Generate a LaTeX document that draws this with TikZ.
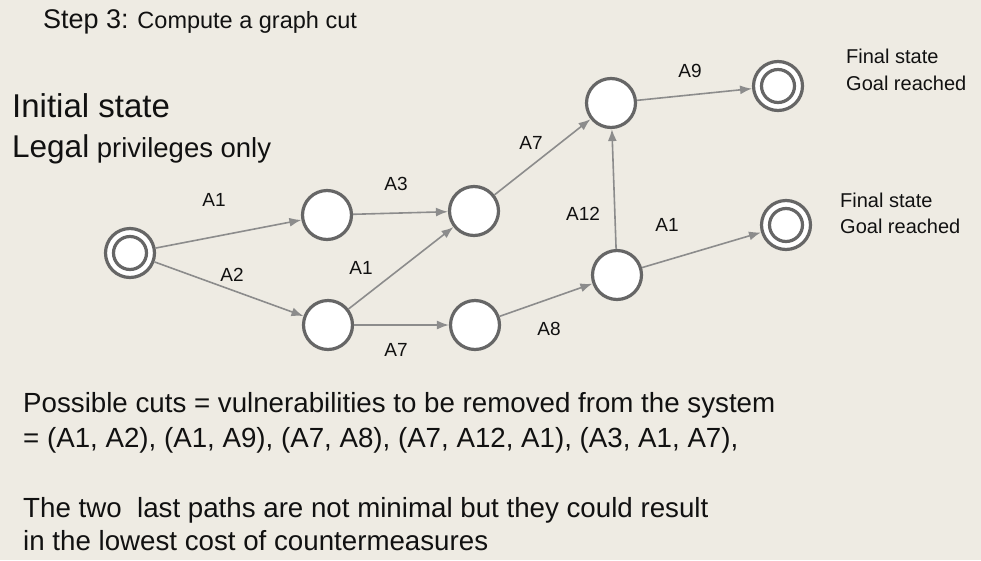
\documentclass[tikz,border=0pt]{standalone}
\usepackage{fontspec}
\setmainfont{Liberation Sans}
\usetikzlibrary{arrows.meta}
\definecolor{bgcol}{HTML}{EEEBE3}
\definecolor{ringcol}{HTML}{666666}
\definecolor{edgecol}{HTML}{8C8C8C}
\definecolor{txtcol}{HTML}{111111}
\newcommand{\fs}[1]{\fontsize{#1}{#1}\selectfont}

\begin{document}
\begin{tikzpicture}[x=1pt,y=-1pt]
		\tikzstyle{state} = [circle, draw=ringcol, line width=3.2pt, fill=white, minimum size=49pt, inner sep=0pt]
		\tikzstyle{inring} = [circle, draw=ringcol, line width=3.2pt, minimum size=33pt, inner sep=0pt]
		\tikzstyle{arr} = [-{Latex[length=12pt,width=9pt]}, draw=edgecol, line width=1.6pt]
		\tikzstyle{lbl} = [inner sep=0pt, text=txtcol, font=\fs{19}]
		\tikzstyle{txt} = [inner sep=0pt, anchor=base west, text=txtcol]
		\fill [bgcol] (0,0) rectangle (981,560);
		% states
		\node [state] (v0) at (130,253) {};
		\node [inring] (v0i) at (v0) {};
		\node [state] (v1) at (327,215) {};
		\node [state] (v2) at (328,325) {};
		\node [state] (v3) at (474,211) {};
		\node [state] (v4) at (475,325) {};
		\node [state] (v5) at (611,103) {};
		\node [state] (v6) at (617,275) {};
		\node [state] (v7) at (778,86) {};
		\node [inring] (v7i) at (v7) {};
		\node [state] (v8) at (786,225) {};
		\node [inring] (v8i) at (v8) {};
		% transitions
		\draw [arr] (v0) -- (v1);
		\draw [arr] (v0) -- (v2);
		\draw [arr] (v1) -- (v3);
		\draw [arr] (v2) -- (v3);
		\draw [arr] (v2) -- (v4);
		\draw [arr] (v3) -- (v5);
		\draw [arr] (v4) -- (v6);
		\draw [arr] (v6) -- (v5);
		\draw [arr] (v6) -- (v8);
		\draw [arr] (v5) -- (v7);
		% labels
		\node [lbl] (l1) at (214,200) {A1};
		\node [lbl] (l2) at (232,275) {A2};
		\node [lbl] (l3) at (396,184) {A3};
		\node [lbl] (l4) at (361,268) {A1};
		\node [lbl] (l5) at (396,350) {A7};
		\node [lbl] (l6) at (531,143) {A7};
		\node [lbl] (l7) at (549,329) {A8};
		\node [lbl] (l8) at (583,214) {A12};
		\node [lbl] (l9) at (667,225) {A1};
		\node [lbl] (l10) at (690,71) {A9};
		% texts
		\node [txt] (t1) at (43,28) {\fs{27}Step 3:\fs{23.5} Compute a graph cut};
		\node [txt] (t2) at (12,117) {\fs{33}Initial state};
		\node [txt] (t3) at (12,157) {\fs{31.5}Legal\fs{27.5} privileges only};
		\node [txt, font=\fs{20}] (t4) at (846,63) {Final state};
		\node [txt, font=\fs{20}] (t5) at (846,90) {Goal reached};
		\node [txt, font=\fs{20}] (t6) at (840,207) {Final state};
		\node [txt, font=\fs{20}] (t7) at (840,233) {Goal reached};
		\node [txt, font=\fs{27.7}] (t8) at (23,412) {Possible cuts = vulnerabilities to be removed from the system};
		\node [txt, font=\fs{27.7}] (t9) at (23,447) {= (A1, A2), (A1, A9), (A7, A8), (A7, A12, A1), (A3, A1, A7),};
		\node [txt, font=\fs{27.7}] (t10) at (23,517) {The two\ \ last paths are not minimal but they could result};
		\node [txt, font=\fs{27.7}] (t11) at (23,550) {in the lowest cost of countermeasures};
\end{tikzpicture}
\end{document}
